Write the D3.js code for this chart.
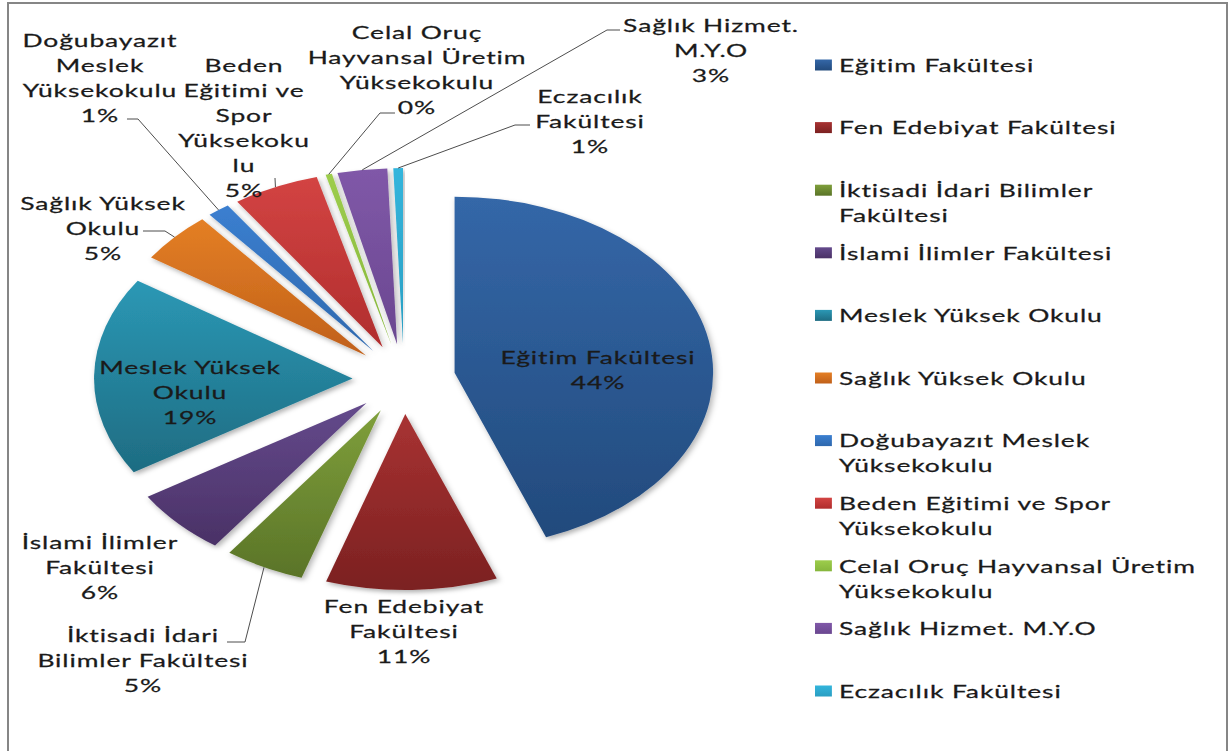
<!DOCTYPE html>
<html>
<head>
<meta charset="utf-8">
<script src="https://cdn.jsdelivr.net/npm/d3@7"></script>
<style>
  body { margin: 0; background: #fff; }
  text { font-family: Lato, "Open Sans", sans-serif; fill: #1a1a1a; stroke: #1a1a1a; stroke-width: 0.25px; }
</style>
</head>
<body>
<div id="chart"></div>
<script>
// Data
var categories = ["Eğitim Fakültesi", "Fen Edebiyat Fakültesi", "İktisadi İdari Bilimler Fakültesi",
    "İslami İlimler Fakültesi", "Meslek Yüksek Okulu", "Sağlık Yüksek Okulu",
    "Doğubayazıt Meslek Yüksekokulu", "Beden Eğitimi ve Spor Yüksekokulu",
    "Celal Oruç Hayvansal Üretim Yüksekokulu", "Sağlık Hizmet. M.Y.O", "Eczacılık Fakültesi"];
var shares = [44.2, 10.7, 5.0, 6.1, 18.3, 4.7, 1.4, 5.4, 0.4, 3.1, 0.6];
var percentLabels = ["44%", "11%", "5%", "6%", "19%", "5%", "1%", "5%", "0%", "3%", "1%"];
// label text as it is broken in the chart
var pieLabelLines = [
    ["Eğitim Fakültesi"], ["Fen Edebiyat", "Fakültesi"], ["İktisadi İdari", "Bilimler Fakültesi"],
    ["İslami İlimler", "Fakültesi"], ["Meslek Yüksek", "Okulu"], ["Sağlık Yüksek", "Okulu"],
    ["Doğubayazıt", "Meslek", "Yüksekokulu"], ["Beden", "Eğitimi ve", "Spor", "Yüksekoku", "lu"],
    ["Celal Oruç", "Hayvansal Üretim", "Yüksekokulu"], ["Sağlık Hizmet.", "M.Y.O"], ["Eczacılık", "Fakültesi"]];
var legendLines = [
    ["Eğitim Fakültesi"], ["Fen Edebiyat Fakültesi"], ["İktisadi İdari Bilimler", "Fakültesi"],
    ["İslami İlimler Fakültesi"], ["Meslek Yüksek Okulu"], ["Sağlık Yüksek Okulu"],
    ["Doğubayazıt Meslek", "Yüksekokulu"], ["Beden Eğitimi ve Spor", "Yüksekokulu"],
    ["Celal Oruç Hayvansal Üretim", "Yüksekokulu"], ["Sağlık Hizmet. M.Y.O"], ["Eczacılık Fakültesi"]];

// slice colours (top, bottom of gradient)
var colorsTop = ["#3467a8", "#a83232", "#7f9f3b", "#644a8c", "#2b98b5", "#e47f25",
    "#3b7fd0", "#d34443", "#9dcd4c", "#8058a8", "#33b5dc"];
var colorsBottom = ["#224a7c", "#7b2121", "#5a7428", "#4a3166", "#1e6c82", "#c0601a",
    "#2e68ad", "#b02d2d", "#86b63c", "#6a4790", "#2a9ec2"];

// label placement (screen px): centre x, first line y, optional leader start/elbow
var labelPos = [
    { x: 598, y: 357 }, { x: 404, y: 606 },
    { x: 143, y: 635, leader: [[227, 642], [245, 642]] },
    { x: 100, y: 542 }, { x: 190, y: 367 },
    { x: 103, y: 203, leader: [[143, 231], [165, 231]] },
    { x: 100, y: 40, leader: [[127, 119], [138, 119]] },
    { x: 244, y: 65, leader: [[275, 178]] },
    { x: 417, y: 32, leader: [[395, 113], [380, 113]] },
    { x: 711, y: 25, leader: [[620, 30], [607, 30]] },
    { x: 590, y: 96, leader: [[530, 125], [515, 125]] }];

var width = 1231, height = 751;
// the original picture is stretched sideways, everything is drawn in a narrow frame then scaled
var SX = 1.469;
var cx = 404 / SX, cy = 379;
var radius = 176, explode = 35;
var lineH = 25;
var fontSize = 18;

var svg = d3.select("#chart")
    .append("svg")
    .attr("width", width)
    .attr("height", height);

var defs = svg.append("defs");

categories.forEach(function (c, i) {
    var grad = defs.append("linearGradient")
        .attr("id", "grad" + i)
        .attr("x1", 0).attr("y1", 0).attr("x2", 0).attr("y2", 1);
    grad.append("stop").attr("offset", "0%").attr("stop-color", colorsTop[i]);
    grad.append("stop").attr("offset", "100%").attr("stop-color", colorsBottom[i]);
});

var shadow = defs.append("filter")
    .attr("id", "shadow")
    .attr("x", "-20%").attr("y", "-20%").attr("width", "140%").attr("height", "140%");
shadow.append("feDropShadow")
    .attr("dx", 1.5).attr("dy", 2.5)
    .attr("stdDeviation", 2)
    .attr("flood-color", "#000")
    .attr("flood-opacity", 0.3);

// outer frame
svg.append("rect")
    .attr("x", 8).attr("y", 3)
    .attr("width", 1219).attr("height", 760)
    .attr("fill", "none")
    .attr("stroke", "#868686")
    .attr("stroke-width", 2);

var g = svg.append("g")
    .attr("transform", "scale(" + SX + ",1)");

var pie = d3.pie().sort(null).value(function (d) { return d; });
var arcs = pie(shares);
var arc = d3.arc().innerRadius(0).outerRadius(radius);

function midAngle(d) { return (d.startAngle + d.endAngle) / 2; }

// slices, each pushed out along its middle angle
g.append("g")
    .selectAll("path")
    .data(arcs)
    .enter()
    .append("path")
    .attr("transform", function (d) {
        var a = midAngle(d);
        return "translate(" + (cx + explode * Math.sin(a)) + "," + (cy - explode * Math.cos(a)) + ")";
    })
    .attr("d", arc)
    .attr("fill", function (d, i) { return "url(#grad" + i + ")"; })
    .attr("filter", "url(#shadow)");

// leader lines from label to the outer edge of the slice
arcs.forEach(function (d, i) {
    var p = labelPos[i];
    if (!p.leader) return;
    var a = midAngle(d);
    var r = radius + explode;
    var pts = p.leader.map(function (q) { return [q[0] / SX, q[1]]; });
    pts.push([cx + r * Math.sin(a), cy - r * Math.cos(a)]);
    g.append("path")
        .attr("d", d3.line()(pts))
        .attr("fill", "none")
        .attr("stroke", "#4d4d4d")
        .attr("stroke-width", 1)
        .attr("vector-effect", "non-scaling-stroke");
});

// slice labels
arcs.forEach(function (d, i) {
    var p = labelPos[i];
    var lines = pieLabelLines[i].concat([percentLabels[i]]);
    var t = g.append("text")
        .attr("text-anchor", "middle")
        .style("font-size", fontSize + "px")
        .style("letter-spacing", "0.6px");
    lines.forEach(function (l, k) {
        t.append("tspan")
            .attr("x", p.x / SX)
            .attr("y", p.y + k * lineH)
            .attr("dominant-baseline", "central")
            .text(l);
    });
});

// legend
var legendX = 815 / SX, legendTextX = 839 / SX;
var legendY0 = 65, legendStep = 62.6;
var legend = g.append("g")
    .selectAll("g")
    .data(categories)
    .enter()
    .append("g");

legend.append("rect")
    .attr("x", legendX)
    .attr("y", function (d, i) { return legendY0 + i * legendStep - 5.5; })
    .attr("width", 11.5)
    .attr("height", 11)
    .attr("fill", function (d, i) { return "url(#grad" + i + ")"; });

legend.append("text")
    .style("font-size", fontSize + "px")
    .style("letter-spacing", "0.6px")
    .each(function (d, i) {
        var t = d3.select(this);
        legendLines[i].forEach(function (l, k) {
            t.append("tspan")
                .attr("x", legendTextX)
                .attr("y", legendY0 + i * legendStep + k * lineH)
                .attr("dominant-baseline", "central")
                .text(l);
        });
    });
</script>
</body>
</html>
